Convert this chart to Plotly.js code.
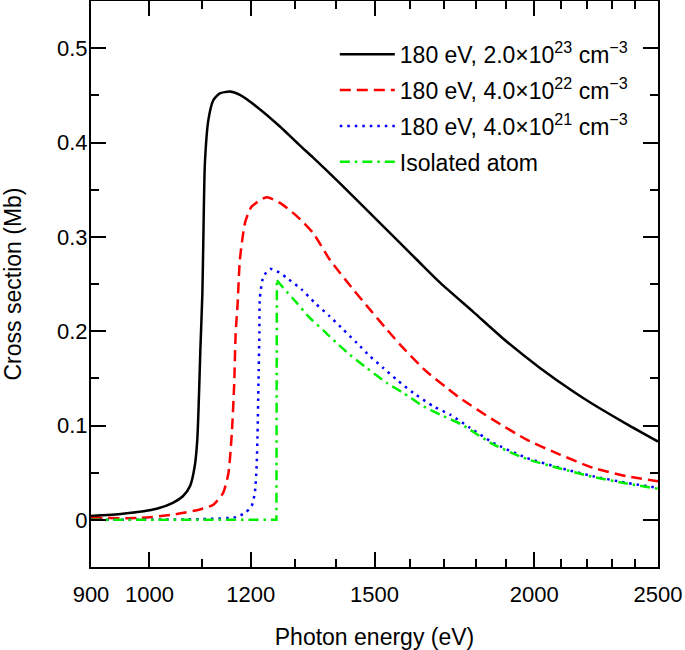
<!DOCTYPE html>
<html>
<head>
<meta charset="utf-8">
<script src="https://cdn.plot.ly/plotly-3.0.1.min.js"></script>
<style>html,body{margin:0;padding:0;background:#fff;}</style>
</head>
<body>
<div id="chart" style="width:685px;height:650px;"></div>
<script>
// Photon energy (eV) and cross section (Mb)
const energyDense = [900, 953, 1013, 1043, 1062, 1076, 1085, 1090, 1093, 1096, 1100, 1102, 1105, 1112, 1122, 1135, 1156, 1177, 1213, 1265, 1311, 1343, 1409, 1524, 1619, 1688, 1792, 1903, 2021, 2146, 2224, 2363, 2500];
const sigmaDense  = [0.004, 0.0064, 0.0117, 0.018, 0.025, 0.036, 0.057, 0.085, 0.127, 0.18, 0.24, 0.30, 0.378, 0.424, 0.445, 0.452, 0.454, 0.4505, 0.438, 0.417, 0.397, 0.384, 0.357, 0.311, 0.2757, 0.2515, 0.2205, 0.189, 0.161, 0.136, 0.1225, 0.1015, 0.083];

const energyMid = [900, 983, 1044, 1095, 1122, 1142, 1153, 1160, 1165, 1168, 1172, 1177, 1188, 1202, 1235, 1265, 1304, 1343, 1384, 1444, 1488, 1534, 1580, 1648, 1709, 1750, 1858, 1973, 2095, 2224, 2363, 2500];
const sigmaMid  = [0.002, 0.002, 0.0056, 0.011, 0.016, 0.0286, 0.05, 0.092, 0.145, 0.198, 0.228, 0.276, 0.315, 0.332, 0.342, 0.336, 0.322, 0.304, 0.2757, 0.244, 0.2228, 0.2016, 0.182, 0.157, 0.1398, 0.129, 0.106, 0.085, 0.0692, 0.0551, 0.0462, 0.0409];

const energyLow = [900, 1100, 1170, 1188, 1202, 1209, 1213, 1215, 1217, 1219, 1220, 1228, 1243, 1264, 1281, 1316, 1347, 1384, 1418, 1453, 1488, 1524, 1561, 1609, 1668, 1719, 1782, 1858, 1973, 2095, 2224, 2363, 2500];
const sigmaLow  = [0.0, 0.0008, 0.003, 0.0074, 0.0144, 0.0286, 0.057, 0.092, 0.145, 0.198, 0.235, 0.258, 0.266, 0.262, 0.2564, 0.244, 0.23, 0.2157, 0.2016, 0.1875, 0.1733, 0.161, 0.1486, 0.1345, 0.1203, 0.1115, 0.0975, 0.0816, 0.0657, 0.0551, 0.0462, 0.0392, 0.0339];

const energyAtom = [900, 1257, 1258, 1273, 1304, 1335, 1368, 1401, 1435, 1479, 1534, 1580, 1638, 1698, 1755, 1858, 1973, 2095, 2224, 2363, 2500];
const sigmaAtom  = [0.0, 0.0, 0.254, 0.2458, 0.23, 0.214, 0.2009, 0.1875, 0.175, 0.161, 0.145, 0.1345, 0.1203, 0.11, 0.101, 0.080, 0.0645, 0.0545, 0.0455, 0.0385, 0.033];
const atomEdgeIndex = 2; // index of the ionisation-edge point in energyAtom

const seriesNames = [
  '180 eV, 2.0×10<sup>23</sup> cm<sup>−3</sup>',
  '180 eV, 4.0×10<sup>22</sup> cm<sup>−3</sup>',
  '180 eV, 4.0×10<sup>21</sup> cm<sup>−3</sup>',
  'Isolated atom'
];

const xTickVals = [900, 1000, 1200, 1500, 2000, 2500];
const xTickText = ['900', '1000', '1200', '1500', '2000', '2500'];
const xMinorVals = [1100, 1300, 1400, 1600, 1700, 1800, 1900, 2100, 2200, 2300, 2400];
const yTickVals = [0, 0.1, 0.2, 0.3, 0.4, 0.5];
const yTickText = ['0', '0.1', '0.2', '0.3', '0.4', '0.5'];

const FONT = 'Liberation Sans, Arial, Helvetica, sans-serif';
const LW = 2.5;
const SMOOTH = 0.6;
const greenLine = {color: '#00ee00', width: LW, dash: '10px,5px,2.5px,5px'};

const traces = [
  {x: energyDense, y: sigmaDense, name: seriesNames[0], legendgroup: 'g1',
   line: {color: '#000000', width: LW, dash: 'solid', shape: 'spline', smoothing: SMOOTH}},
  {x: energyMid, y: sigmaMid, name: seriesNames[1], legendgroup: 'g2',
   line: {color: '#ff0000', width: LW, dash: '11px,6px', shape: 'spline', smoothing: SMOOTH}},
  {x: energyLow, y: sigmaLow, name: seriesNames[2], legendgroup: 'g3',
   line: {color: '#0000ff', width: LW, dash: '2.5px,5px', shape: 'spline', smoothing: SMOOTH}},
  {x: energyAtom.slice(0, atomEdgeIndex + 1), y: sigmaAtom.slice(0, atomEdgeIndex + 1), name: seriesNames[3], legendgroup: 'g4',
   line: Object.assign({shape: 'linear'}, greenLine)},
  {x: energyAtom.slice(atomEdgeIndex), y: sigmaAtom.slice(atomEdgeIndex), name: seriesNames[3], legendgroup: 'g4', showlegend: false,
   line: Object.assign({shape: 'spline', smoothing: SMOOTH}, greenLine)}
].map(t => Object.assign({type: 'scatter', mode: 'lines', hoverinfo: 'skip'}, t));

const axisCommon = {
  showline: true, linecolor: '#000', linewidth: 2,
  mirror: 'ticks', ticks: 'inside', ticklen: 15, tickwidth: 2, tickcolor: '#000',
  showgrid: false, zeroline: false,
  tickfont: {family: FONT, size: 22, color: '#000'}
};

const layout = {
  width: 685, height: 650,
  margin: {l: 91, r: 27, t: 1, b: 83},
  paper_bgcolor: '#fff', plot_bgcolor: '#fff',
  font: {family: FONT, size: 22, color: '#000'},
  showlegend: true,
  legend: {
    x: 0.43, y: 0.944, xanchor: 'left', yanchor: 'top',
    bgcolor: 'rgba(0,0,0,0)', borderwidth: 0,
    font: {family: FONT, size: 23, color: '#000'},
    tracegroupgap: 3, traceorder: 'grouped', itemwidth: 55
  },
  xaxis: Object.assign({}, axisCommon, {
    type: 'log',
    range: [Math.log10(900), Math.log10(2500)],
    tickmode: 'array', tickvals: xTickVals, ticktext: xTickText,
    ticklabelstandoff: 7,
    minor: {tickmode: 'array', tickvals: xMinorVals, ticks: 'inside', ticklen: 8, tickwidth: 2, tickcolor: '#000'},
    title: {text: 'Photon energy (eV)', font: {family: FONT, size: 23, color: '#000'}, standoff: 24}
  }),
  yaxis: Object.assign({}, axisCommon, {
    range: [-0.05, 0.55],
    tickmode: 'array', tickvals: yTickVals, ticktext: yTickText,
    ticklabelstandoff: -3,
    minor: {dtick: 0.05, tick0: 0, ticks: 'inside', ticklen: 8, tickwidth: 2, tickcolor: '#000'},
    title: {text: 'Cross section (Mb)', font: {family: FONT, size: 23, color: '#000'}, standoff: 30}
  })
};

Plotly.newPlot('chart', traces, layout, {displayModeBar: false, staticPlot: true});
</script>
</body>
</html>
